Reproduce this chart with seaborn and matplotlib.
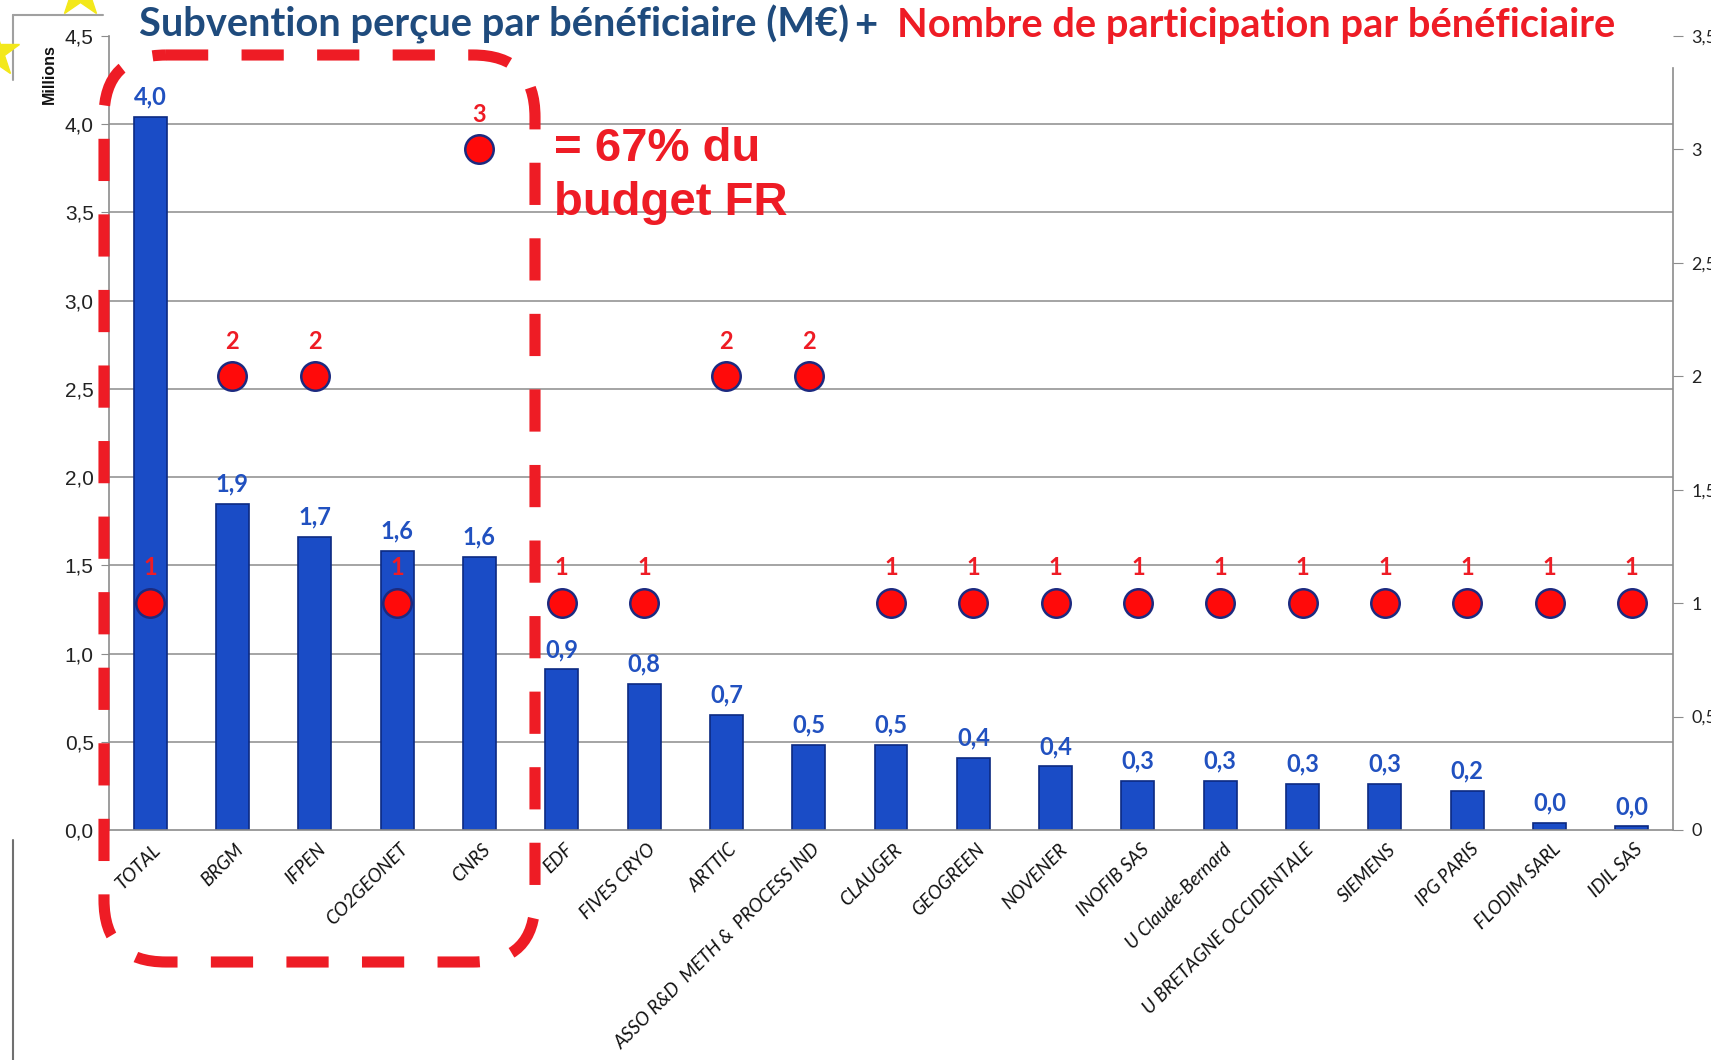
import numpy as np
import matplotlib.pyplot as plt
import seaborn as sns
from matplotlib.patches import FancyBboxPatch
from matplotlib.transforms import ScaledTranslation

# data
beneficiaires = ["TOTAL", "BRGM", "IFPEN", "CO2GEONET", "CNRS", "EDF", "FIVES CRYO", "ARTTIC",
                 "ASSO R&D  METH &  PROCESS IND", "CLAUGER", "GEOGREEN", "NOVENER", "INOFIB SAS",
                 "U Claude-Bernard", "U BRETAGNE OCCIDENTALE", "SIEMENS", "IPG PARIS",
                 "FLODIM SARL", "IDIL SAS"]
subvention = [4.04, 1.85, 1.66, 1.58, 1.55, 0.91, 0.83, 0.65, 0.48, 0.48, 0.41, 0.36,
              0.28, 0.28, 0.26, 0.26, 0.22, 0.04, 0.02]
participations = [1, 2, 2, 1, 3, 1, 1, 2, 2, 1, 1, 1, 1, 1, 1, 1, 1, 1, 1]
left_ticks = [0.0, 0.5, 1.0, 1.5, 2.0, 2.5, 3.0, 3.5, 4.0, 4.5]
right_ticks = [0, 0.5, 1, 1.5, 2, 2.5, 3, 3.5]

BLUE_BAR = "#1a4cc6"
BLUE_TXT = "#2151c0"
NAVY = "#1f4b7d"
RED = "#ee1c25"
GREY = "#8c8c8c"

sns.set_style("white")
plt.rcParams['font.family'] = ['Lato', 'DejaVu Sans']

W, H = 1711, 1060
fig = plt.figure(figsize=(W / 100, H / 100), dpi=100)
ax = fig.add_axes([109 / W, 1 - 830 / H, (1673 - 109) / W, (830 - 36) / H])

n = len(beneficiaires)
sns.barplot(x=beneficiaires, y=subvention, color=BLUE_BAR, saturation=1, width=0.4,
            edgecolor="#0c2a82", linewidth=1.2, ax=ax, zorder=2)
ax.set_xlim(-0.5, n - 0.5)
ax.set_ylim(0, 4.5)

# grid lines (none at the top)
for yv in left_ticks[1:-1]:
    ax.axhline(yv, color=GREY, lw=1.1, zorder=0)

ax.set_yticks(left_ticks)
ax.set_yticklabels([f"{v:.1f}".replace(".", ",") for v in left_ticks],
                   family=['Liberation Sans Narrow', 'Liberation Sans', 'DejaVu Sans'], fontsize=15)
ax.tick_params(axis='y', length=6, color=GREY, pad=5, labelcolor="#222222")

ax.set_xticks(range(n))
ax.set_xticklabels(beneficiaires, rotation=45, ha='right', va='center', rotation_mode='anchor',
                   fontstyle='italic', fontsize=13.5, color="#111111")
ax.tick_params(axis='x', length=0, pad=12)
off = ScaledTranslation(6 / 72, 0, fig.dpi_scale_trans)
for lab in ax.get_xticklabels():
    lab.set_transform(lab.get_transform() + off)
ax.set_xticks(np.arange(-0.5, n, 1), minor=True)
ax.tick_params(axis='x', which='minor', length=7, color=GREY, width=1)
ax.set_xlabel("")
ax.set_ylabel("")

for s in ['top', 'right']:
    ax.spines[s].set_visible(False)
for s in ['left', 'bottom']:
    ax.spines[s].set_color(GREY)
    ax.spines[s].set_linewidth(1.2)

for i, v in enumerate(subvention):
    ax.annotate(f"{v:.1f}".replace(".", ","), (i, v), xytext=(0, 9), textcoords='offset points',
                ha='center', va='baseline', color=BLUE_TXT, fontsize=17, fontweight='bold')

# participations on secondary axis
ax2 = ax.twinx()
sns.scatterplot(x=np.arange(n), y=participations, s=420, color="#ff0a0a",
                edgecolor="#1c2a80", linewidth=1.8, ax=ax2, zorder=5)
ax2.set_ylim(0, 3.5)
ax2.set_xlim(-0.5, n - 0.5)
ax2.set_yticks(right_ticks)
ax2.set_yticklabels([f"{v:g}".replace(".", ",") for v in right_ticks], fontsize=13)
ax2.tick_params(axis='y', length=7, color=GREY, pad=6, labelcolor="#222222")
ax2.set_ylabel("")
for s in ['top', 'left', 'bottom']:
    ax2.spines[s].set_visible(False)
ax2.spines['right'].set_color(GREY)
ax2.spines['right'].set_linewidth(1.2)
ax2.spines['right'].set_bounds(0, 3.36)

for i, p in enumerate(participations):
    ax2.annotate(str(p), (i, p), xytext=(0, 20), textcoords='offset points',
                 ha='center', va='baseline', color=RED, fontsize=17, fontweight='bold')

# overlay in pixel coordinates for title, box, note
ov = fig.add_axes([0, 0, 1, 1], zorder=10)
ov.set_xlim(0, W)
ov.set_ylim(H, 0)
ov.axis('off')
ov.patch.set_alpha(0)

t1 = ov.text(139, 37, "Subvention perçue par bénéficiaire (M€)", color=NAVY, fontsize=32,
             fontweight='bold', ha='left', va='baseline')
t2 = ov.text(866, 37, "+", color=NAVY, fontsize=32, fontweight='bold', ha='center', va='baseline')
t3 = ov.text(1615, 37, "Nombre de participation par bénéficiaire", color=RED, fontsize=32,
             fontweight='bold', ha='right', va='baseline')
r = fig.canvas.get_renderer()
scale = 712 / t1.get_window_extent(r).width
for t in (t1, t2, t3):
    t.set_fontsize(32 * scale)

ov.add_patch(FancyBboxPatch((104, 55), 431, 907, boxstyle="round,pad=0,rounding_size=62",
                            fill=False, ec=RED, lw=8, ls=(0, (3.8, 3.0))))
ov.text(554, 161, "= 67% du", color=RED, fontsize=34, fontweight='bold',
        family=['Liberation Sans', 'DejaVu Sans'], ha='left', va='baseline')
ov.text(554, 215, "budget FR", color=RED, fontsize=34, fontweight='bold',
        family=['Liberation Sans', 'DejaVu Sans'], ha='left', va='baseline')

ov.text(49, 74, "Millions", rotation=90, fontsize=11.5, fontweight='bold',
        family=['Liberation Sans', 'DejaVu Sans'], ha='center', va='center', color="#111111")

# slide leftovers: frame lines and flag stars
ov.plot([13, 103], [15, 15], color="#a0a0a0", lw=1.5)
ov.plot([13, 13], [15, 80], color="#a0a0a0", lw=1.5)
ov.plot([13, 13], [840, 1060], color="#707070", lw=1.5)
ov.plot([-6, 80], [52, -8], ls='none', marker='*', ms=38, color="#f3e81a", clip_on=False)

plt.savefig("out.png", dpi=100)
